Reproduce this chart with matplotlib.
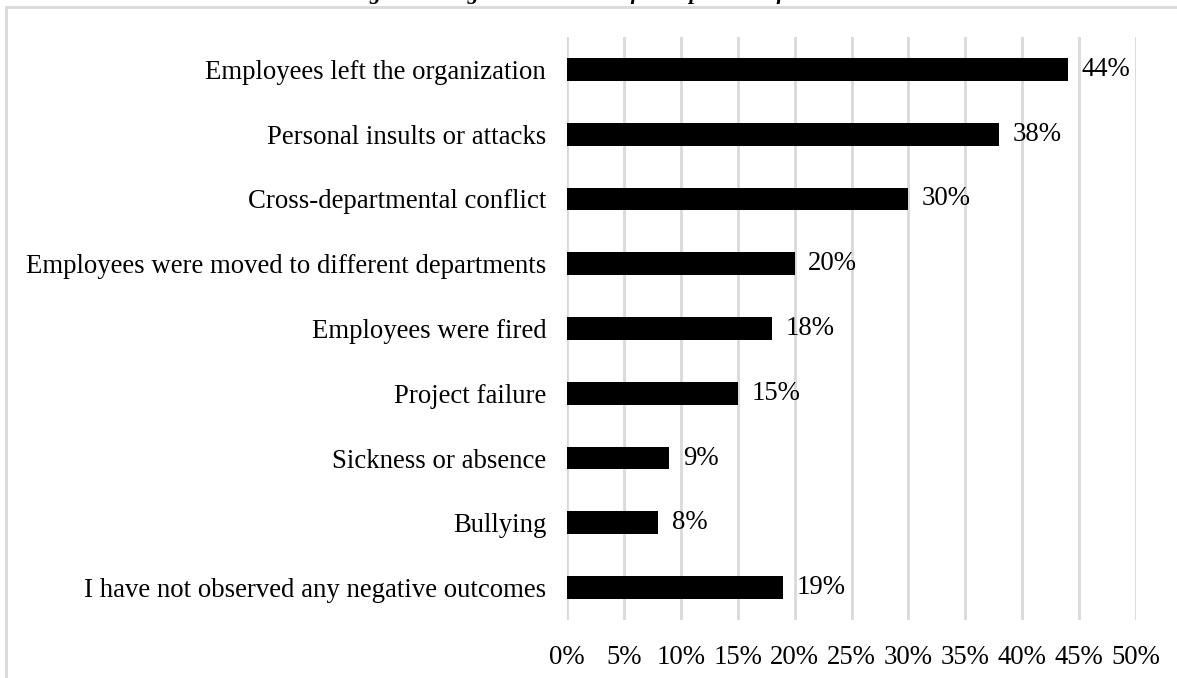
import matplotlib.pyplot as plt
from matplotlib.patches import Rectangle

plt.rcParams['font.family'] = ['Liberation Serif', 'DejaVu Serif']

categories = [
    "Employees left the organization",
    "Personal insults or attacks",
    "Cross-departmental conflict",
    "Employees were moved to different departments",
    "Employees were fired",
    "Project failure",
    "Sickness or absence",
    "Bullying",
    "I have not observed any negative outcomes",
]
values = [44, 38, 30, 20, 18, 15, 9, 8, 19]
xticks = [0, 5, 10, 15, 20, 25, 30, 35, 40, 45, 50]
title = "Figure 4: Negative outcomes of workplace conflicts"

fig = plt.figure(figsize=(11.77, 6.78), dpi=100)

# outer chart border (runs off the right and bottom edges)
fig.patches.append(Rectangle((6 / 1177, -0.05), 1.2, 1 - 7 / 678 + 0.05,
                             transform=fig.transFigure, fill=False,
                             edgecolor='#d9d9d9', linewidth=2))
# caption above the chart, only its descenders show
fig.text(0.497, 1.0 + 1 / 678, title, ha='center', va='baseline',
         fontsize=16, fontweight='bold', fontstyle='italic')

ax = fig.add_axes([567 / 1177, 1 - 620 / 678, (1136 - 567) / 1177, (620 - 37) / 678])
y = list(range(len(categories)))
ax.barh(y, values, height=0.35, color='black', zorder=3)
for yi, v in zip(y, values):
    ax.text(v + 1.2, yi, f"{v}%", va='center', ha='left', fontsize=19.3)

ax.set_xlim(0, 50)
ax.set_ylim(len(categories) - 0.5, -0.5)
ax.set_xticks(xticks)
ax.set_xticklabels([f"{t}%" for t in xticks], fontsize=19.3)
ax.set_yticks(y)
ax.set_yticklabels(categories, fontsize=19.3)
ax.tick_params(axis='both', length=0)
ax.tick_params(axis='x', pad=18)
ax.tick_params(axis='y', pad=15)
ax.grid(axis='x', color='#d9d9d9', linewidth=2, zorder=0)
for s in ax.spines.values():
    s.set_visible(False)

fig.savefig('out.png', dpi=100)
